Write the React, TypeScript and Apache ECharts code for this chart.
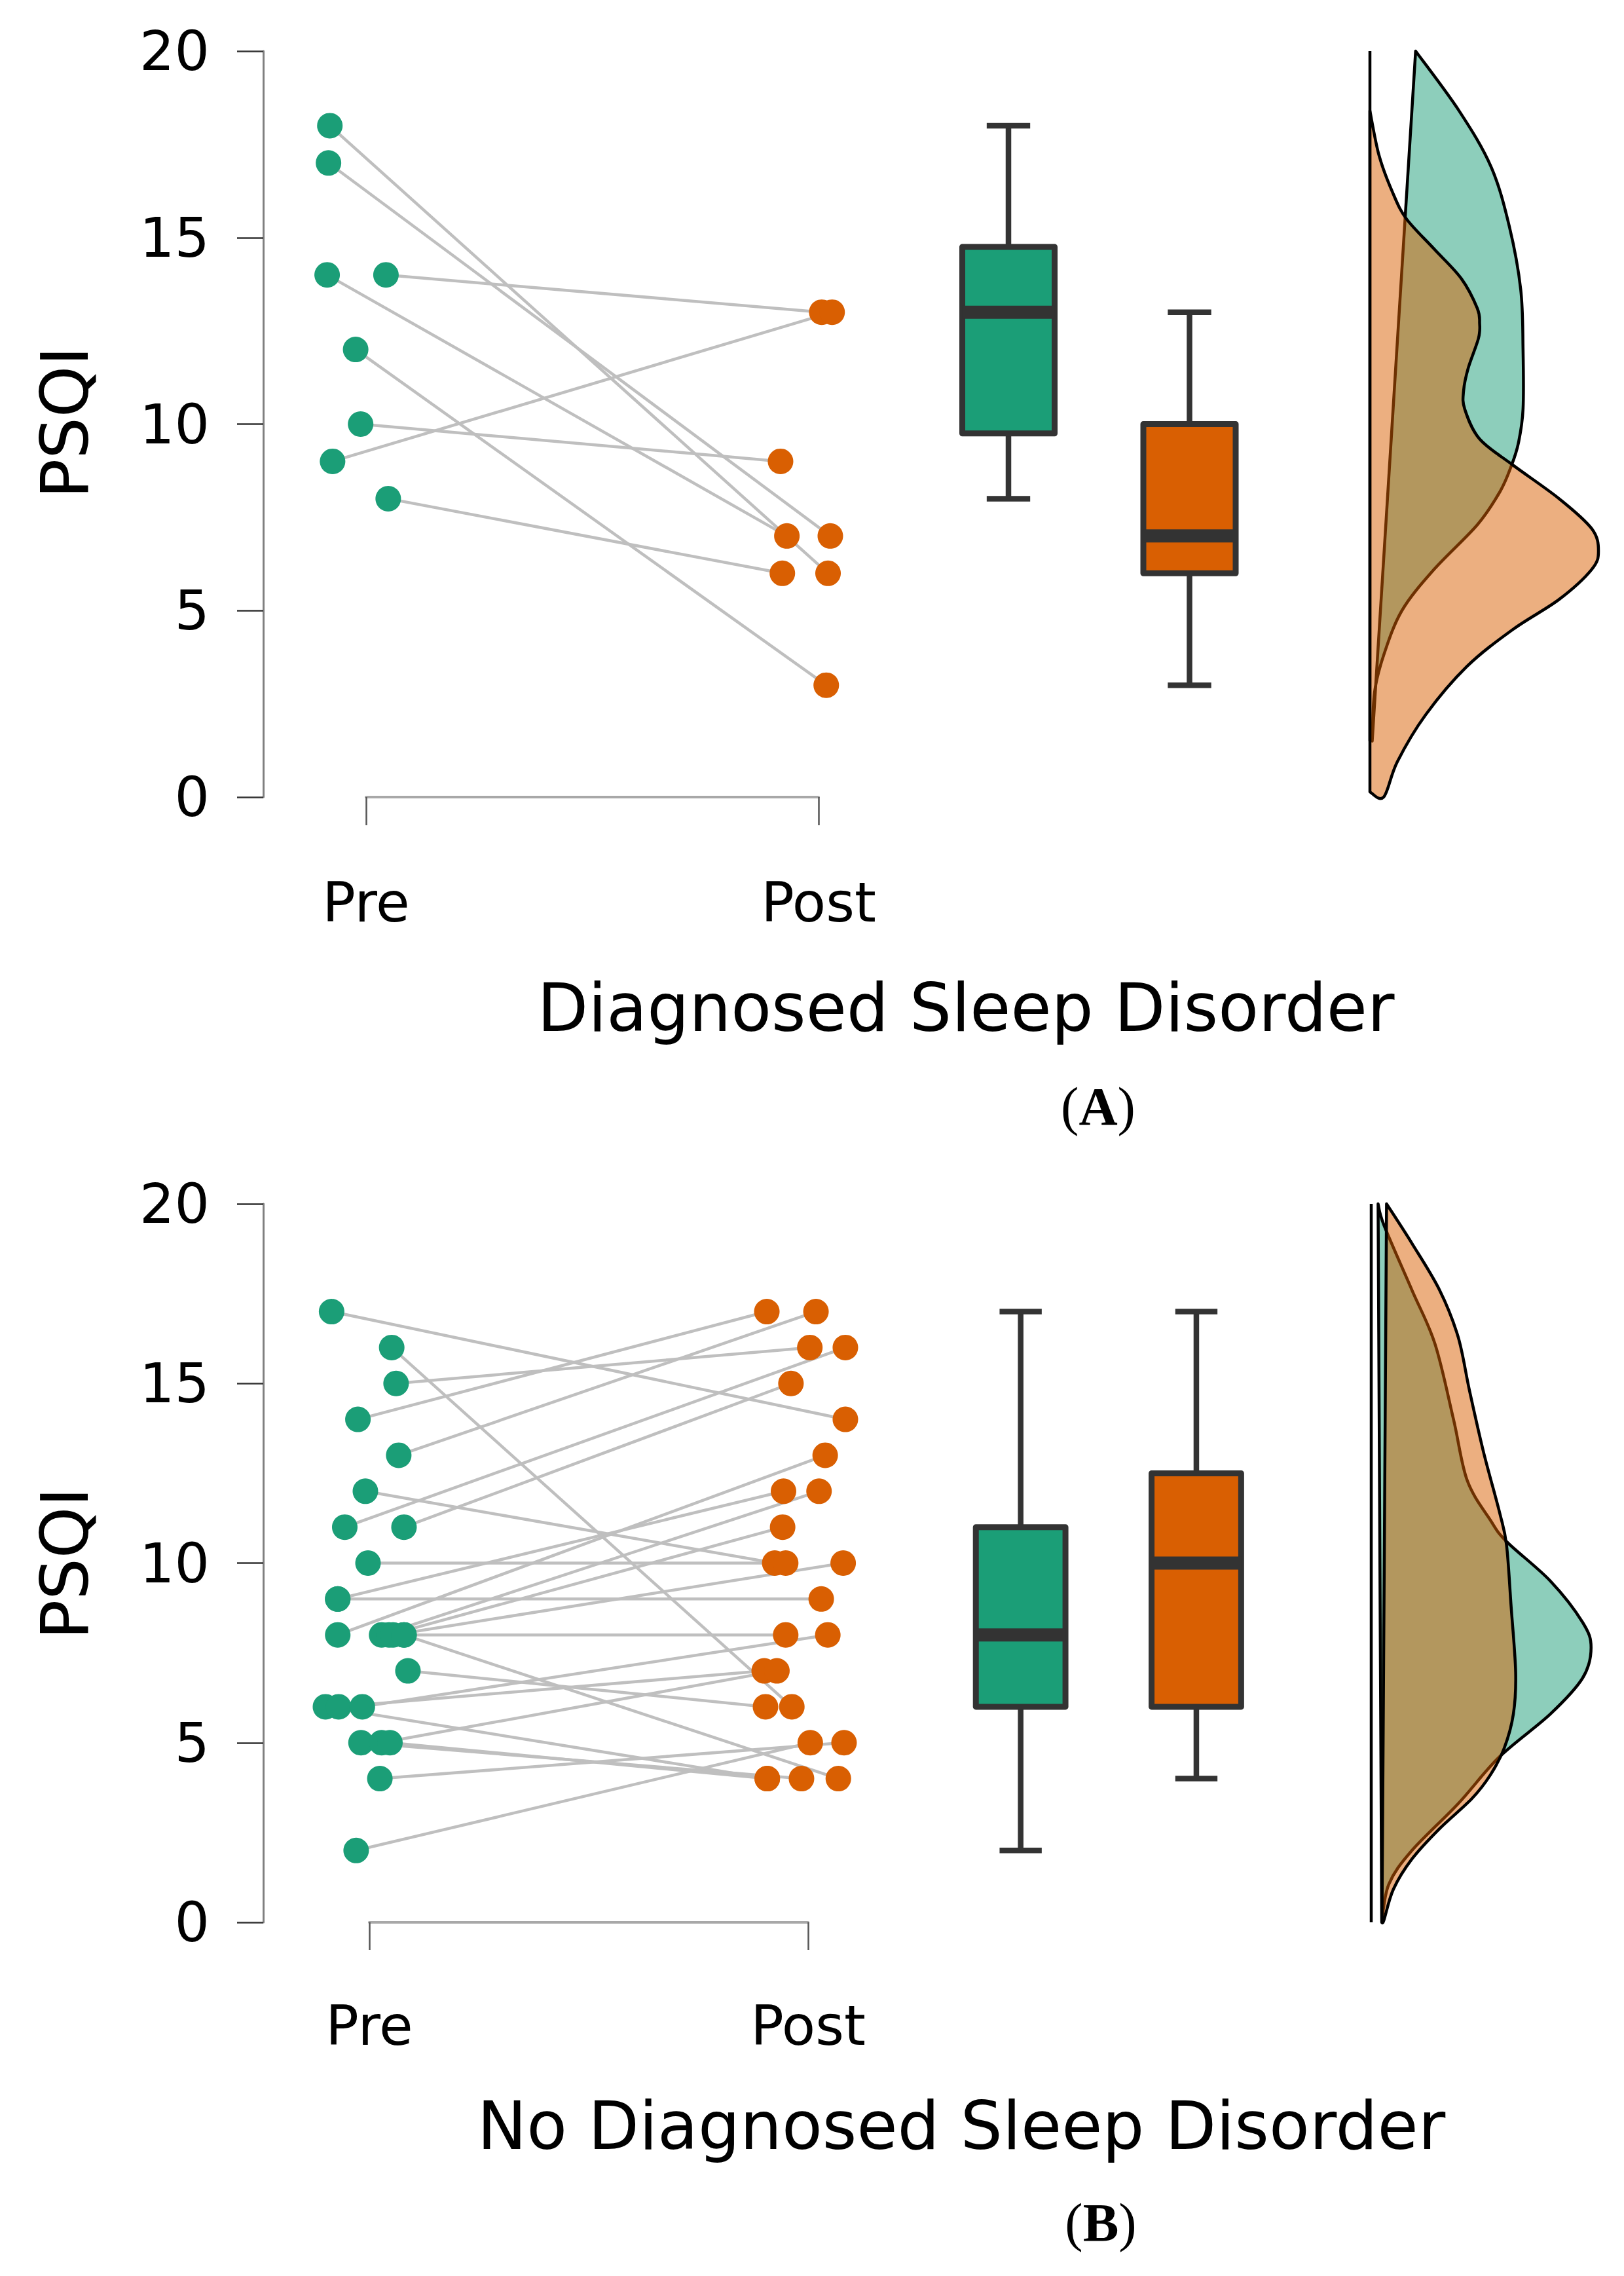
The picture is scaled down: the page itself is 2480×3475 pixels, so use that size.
import React, { useEffect, useRef } from "react";
import * as echarts from "echarts";

// ---------------- DATA ----------------
const categories = ["Pre", "Post"];
const yTicks = [0, 5, 10, 15, 20];

// Panel A: Diagnosed Sleep Disorder (paired)
const preA = [18, 17, 14, 14, 12, 10, 9, 8];
const preJitA = [-0.08, -0.083, -0.086, 0.044, -0.023, -0.012, -0.074, 0.049];
const postA = [6, 7, 7, 13, 3, 9, 13, 6];
const postJitA = [0.021, 0.026, -0.07, 0.007, 0.017, -0.084, 0.03, -0.08];

// Panel B: No Diagnosed Sleep Disorder (paired)
const preB = [17, 16, 15, 14, 13, 12, 11, 11, 10, 9, 9, 8, 8, 8, 8, 8, 8, 7, 6, 6, 6, 5, 5, 5, 4, 2];
const preJitB = [-0.086, 0.051, 0.061, -0.026, 0.067, -0.009, -0.056, 0.079, -0.003, -0.072, -0.072, -0.072, 0.028, 0.045, 0.054, 0.079, 0.079, 0.088, -0.1, -0.07, -0.016, -0.019, 0.028, 0.047, 0.024, -0.03];
const postB = [14, 6, 16, 17, 17, 10, 16, 15, 10, 9, 12, 13, 12, 11, 10, 8, 4, 6, 4, 7, 8, 4, 7, 4, 5, 5];
const postJitB = [0.085, -0.037, 0.004, -0.094, 0.018, -0.076, 0.085, -0.039, -0.051, 0.03, -0.056, 0.039, 0.025, -0.058, 0.08, -0.051, 0.069, -0.097, -0.093, -0.1, 0.045, -0.015, -0.071, -0.093, 0.082, 0.005];

// Box plot statistics: [min, Q1, median, Q3, max]
const boxA = [
  [8, 9.75, 13, 14.75, 18],
  [3, 6, 7, 10, 13],
];
const boxB = [
  [2, 6, 8, 11, 17],
  [4, 6, 10, 12.5, 17],
];

// Density outlines: [PSQI value, relative density]
const densPreA = [[20, 0.2], [18.4, 0.39], [16.9, 0.53], [15.3, 0.61], [13.6, 0.66], [12, 0.67], [10.4, 0.67], [9.5, 0.65], [8.9, 0.62], [8.2, 0.57], [7.3, 0.47], [6.1, 0.28], [5, 0.14], [3.8, 0.06], [2.8, 0.02], [1.5, 0.01]];
const densPostA = [[18.4, 0], [17.2, 0.04], [16.2, 0.1], [15.5, 0.16], [14.7, 0.28], [13.9, 0.4], [13.1, 0.47], [12.7, 0.48], [12.3, 0.475], [11.5, 0.43], [10.9, 0.41], [10.4, 0.415], [9.6, 0.48], [8.9, 0.626], [8, 0.828], [7.2, 0.97], [6.6, 1.0], [6.1, 0.97], [5.3, 0.828], [4.5, 0.627], [3.5, 0.424], [2.2, 0.243], [0.95, 0.12], [0, 0.06], [0.14, 0]];
const densPreB = [[20, 0.03], [19.4, 0.056], [17.6, 0.178], [16.1, 0.279], [14, 0.36], [12.3, 0.42], [11.2, 0.521], [10.6, 0.592], [9.5, 0.784], [8.35, 0.925], [7.65, 0.962], [6.8, 0.925], [5.8, 0.784], [4.6, 0.56], [3.3, 0.38], [2.0, 0.178], [1.06, 0.077], [0, 0.046]];
const densPostB = [[20, 0.067], [18.9, 0.178], [17.6, 0.299], [16.3, 0.38], [14.8, 0.43], [13.1, 0.491], [11.4, 0.562], [10.5, 0.592], [8.8, 0.612], [6.95, 0.632], [5.8, 0.622], [4.85, 0.582], [4.1, 0.521], [3.44, 0.44], [2.6, 0.298], [1.76, 0.178], [0.92, 0.097], [0.07, 0.056], [0, 0.047]];

// ---------------- STYLE ----------------
const FONT = "DejaVu Sans";
const GREEN = "#1b9e77";
const ORANGE = "#d95f02";
const GREEN_A = "rgba(27,158,119,0.5)";
const ORANGE_A = "rgba(217,95,2,0.5)";
const W = 2480;
const H = 3475;
const PAD = 0.15; // extra x-range around Pre/Post for jittered points

type Panel = {
  pre: number[]; preJit: number[]; post: number[]; postJit: number[];
  box: number[][]; densPre: number[][]; densPost: number[][];
  top: number; height: number; sLeft: number; sWidth: number; yAxisX: number;
  bracketOffset: number; tickLen: number; bLeft: number; bWidth: number;
  dLeft: number; dWidth: number; baseTop: number; baseBottom: number;
};

const panels: Panel[] = [
  {
    pre: preA, preJit: preJitA, post: postA, postJit: postJitA, box: boxA,
    densPre: densPreA, densPost: densPostA,
    top: 78, height: 1139, sLeft: 559, sWidth: 691, yAxisX: 402,
    bracketOffset: 51.5, tickLen: 43, bLeft: 1401.75, bWidth: 553,
    dLeft: 2092, dWidth: 349, baseTop: 20, baseBottom: 1.5,
  },
  {
    pre: preB, preJit: preJitB, post: postB, postJit: postJitB, box: boxB,
    densPre: densPreB, densPost: densPostB,
    top: 1838, height: 1097, sLeft: 564, sWidth: 670, yAxisX: 402,
    bracketOffset: 49, tickLen: 42, bLeft: 1424.5, bWidth: 536.6,
    dLeft: 2094, dWidth: 349, baseTop: 20, baseBottom: 0,
  },
];

// Catmull-Rom through screen points -> cubic bezier path, closed straight
function smoothClosedPath(pts: number[][]): string {
  const n = pts.length;
  let d = `M${pts[0][0]},${pts[0][1]}`;
  for (let i = 0; i < n - 1; i++) {
    const p0 = pts[i - 1] || pts[i];
    const p1 = pts[i];
    const p2 = pts[i + 1];
    const p3 = pts[i + 2] || p2;
    const c1x = p1[0] + (p2[0] - p0[0]) / 6;
    const c1y = p1[1] + (p2[1] - p0[1]) / 6;
    const c2x = p2[0] - (p3[0] - p1[0]) / 6;
    const c2y = p2[1] - (p3[1] - p1[1]) / 6;
    d += ` C${c1x},${c1y} ${c2x},${c2y} ${p2[0]},${p2[1]}`;
  }
  return d + " Z";
}

function buildOption() {
  const grid: any[] = [];
  const xAxis: any[] = [];
  const yAxis: any[] = [];
  const series: any[] = [];

  panels.forEach((p, pi) => {
    const g0 = pi * 4; // data grid
    const g1 = g0 + 1; // axis (bracket) grid
    const g2 = g0 + 2; // box grid
    const g3 = g0 + 3; // density grid
    grid.push({ left: p.sLeft - PAD * p.sWidth, top: p.top, width: p.sWidth * (1 + 2 * PAD), height: p.height });
    grid.push({ left: p.sLeft, top: p.top, width: p.sWidth, height: p.height });
    grid.push({ left: p.bLeft, top: p.top, width: p.bWidth, height: p.height });
    grid.push({ left: p.dLeft, top: p.top, width: p.dWidth, height: p.height });

    xAxis.push({ gridIndex: g0, type: "value", min: 1 - PAD, max: 2 + PAD, show: false });
    xAxis.push({
      gridIndex: g1, type: "value", min: 1, max: 2, interval: 1,
      position: "bottom", offset: p.bracketOffset,
      axisLine: { show: true, lineStyle: { color: "#a8a8a8", width: 4 } },
      axisTick: { show: true, length: p.tickLen, lineStyle: { color: "#555", width: 2.5 } },
      axisLabel: {
        show: true, margin: 67, fontSize: 84, color: "#000", fontFamily: FONT,
        formatter: (v: number) => categories[Math.round(v) - 1] ?? "",
      },
      splitLine: { show: false },
    });
    xAxis.push({ gridIndex: g2, type: "category", data: categories, show: false, boundaryGap: true });
    xAxis.push({ gridIndex: g3, type: "value", min: 0, max: 1, show: false });

    yAxis.push({ gridIndex: g0, type: "value", min: 0, max: 20, show: false });
    yAxis.push({
      gridIndex: g1, type: "value", min: yTicks[0], max: yTicks[yTicks.length - 1], interval: 5,
      position: "left", offset: p.sLeft - p.yAxisX,
      axisLine: { show: true, lineStyle: { color: "#808080", width: 3 } },
      axisTick: { show: true, length: 40, lineStyle: { color: "#333", width: 2.5 } },
      axisLabel: { show: true, margin: 82, fontSize: 84, color: "#000", fontFamily: FONT },
      splitLine: { show: false },
    });
    yAxis.push({ gridIndex: g2, type: "value", min: 0, max: 20, show: false });
    yAxis.push({ gridIndex: g3, type: "value", min: 0, max: 20, show: false });

    // connecting lines
    p.pre.forEach((v, i) => {
      series.push({
        type: "line", xAxisIndex: g0, yAxisIndex: g0, silent: true, clip: false,
        symbol: "none", z: 1,
        lineStyle: { color: "#bfbfbf", width: 4.5 },
        data: [[1 + p.preJit[i], v], [2 + p.postJit[i], p.post[i]]],
      });
    });
    // points
    series.push({
      type: "scatter", xAxisIndex: g0, yAxisIndex: g0, clip: false, z: 3,
      symbolSize: 39, itemStyle: { color: GREEN, opacity: 1 },
      data: p.pre.map((v, i) => [1 + p.preJit[i], v]),
    });
    series.push({
      type: "scatter", xAxisIndex: g0, yAxisIndex: g0, clip: false, z: 3,
      symbolSize: 39, itemStyle: { color: ORANGE, opacity: 1 },
      data: p.post.map((v, i) => [2 + p.postJit[i], v]),
    });

    // box plots
    const fills = [GREEN, ORANGE];
    series.push({
      type: "custom", xAxisIndex: g2, yAxisIndex: g2, clip: false, z: 2,
      data: p.box.map((b, i) => [i, ...b]),
      renderItem: (params: any, api: any) => {
        const ci = api.value(0);
        const mn = api.value(1), q1 = api.value(2), md = api.value(3), q3 = api.value(4), mx = api.value(5);
        const cx = api.coord([ci, md])[0];
        const band = api.size([1, 0])[0];
        const bw = band * 0.51;
        const cw = band * 0.24;
        const Y = (v: number) => api.coord([ci, v])[1];
        const stroke = "#333333";
        const ls = { stroke, lineWidth: 8.5 };
        return {
          type: "group",
          children: [
            { type: "line", shape: { x1: cx, y1: Y(mx), x2: cx, y2: Y(q3) }, style: ls },
            { type: "line", shape: { x1: cx, y1: Y(q1), x2: cx, y2: Y(mn) }, style: ls },
            { type: "line", shape: { x1: cx - cw / 2, y1: Y(mx), x2: cx + cw / 2, y2: Y(mx) }, style: ls },
            { type: "line", shape: { x1: cx - cw / 2, y1: Y(mn), x2: cx + cw / 2, y2: Y(mn) }, style: ls },
            {
              type: "rect",
              shape: { x: cx - bw / 2, y: Y(q3), width: bw, height: Y(q1) - Y(q3) },
              style: { fill: fills[ci], stroke, lineWidth: 9, lineJoin: "round" },
            },
            { type: "line", shape: { x1: cx - bw / 2, y1: Y(md), x2: cx + bw / 2, y2: Y(md) }, style: { stroke, lineWidth: 20 } },
          ],
        };
      },
    });

    // densities
    series.push({
      type: "custom", xAxisIndex: g3, yAxisIndex: g3, clip: false, z: 2,
      data: [[0, p.baseTop]],
      renderItem: (params: any, api: any) => {
        const pts = p.densPre.map(([v, w]) => api.coord([w, v]));
        const t = api.coord([0, p.baseTop]);
        const b = api.coord([0, p.baseBottom]);
        return {
          type: "group",
          children: [
            { type: "path", shape: { pathData: smoothClosedPath(pts) }, style: { fill: GREEN_A, stroke: "#000", lineWidth: 4.5, lineJoin: "round" } },
            { type: "line", shape: { x1: t[0], y1: t[1], x2: b[0], y2: b[1] }, style: { stroke: "#000", lineWidth: 4.5 } },
          ],
        };
      },
    });
    series.push({
      type: "custom", xAxisIndex: g3, yAxisIndex: g3, clip: false, z: 3,
      data: [[0, 0]],
      renderItem: (params: any, api: any) => {
        const pts = p.densPost.map(([v, w]) => api.coord([w, v]));
        return {
          type: "path", shape: { pathData: smoothClosedPath(pts) },
          style: { fill: ORANGE_A, stroke: "#000", lineWidth: 4.5, lineJoin: "round" },
        };
      },
    });
  });

  const txt = (text: string, x: number, y: number, size: number, rotation = 0) => ({
    type: "text", x, y, rotation,
    style: {
      text, font: `${size}px "${FONT}"`, fontSize: size, fontFamily: FONT, fill: "#000",
      align: "center", verticalAlign: "middle", textAlign: "center", textVerticalAlign: "middle",
    },
  });
  const lab = (letter: string, x: number, y: number) => ({
    type: "text", x, y,
    style: {
      text: "{n|(}{b|" + letter + "}{n|)}",
      align: "center", verticalAlign: "middle", textAlign: "center", textVerticalAlign: "middle",
      fill: "#000",
      rich: {
        n: { fontFamily: "Liberation Serif", fontSize: 82, fontWeight: "normal", fill: "#000", color: "#000" },
        b: { fontFamily: "Liberation Serif", fontSize: 82, fontWeight: "bold", fill: "#000", color: "#000" },
      },
    },
  });

  const graphic = [
    txt("PSQI", 99, 645, 100, Math.PI / 2),
    txt("PSQI", 99, 2387, 100, Math.PI / 2),
    txt("Diagnosed Sleep Disorder", 1475, 1539, 101),
    txt("No Diagnosed Sleep Disorder", 1468, 3246, 101),
    lab("A", 1677, 1689),
    lab("B", 1681, 3393),
  ];

  return {
    animation: false,
    backgroundColor: "#ffffff",
    textStyle: { fontFamily: FONT },
    grid, xAxis, yAxis, series, graphic,
  };
}

export default function App() {
  const ref = useRef<HTMLDivElement>(null);
  useEffect(() => {
    if (!ref.current) return;
    const chart = echarts.init(ref.current, null, { renderer: "svg", width: W, height: H });
    chart.setOption(buildOption() as any);
    return () => chart.dispose();
  }, []);
  return (
    <div
      ref={ref}
      style={{ position: "absolute", left: 0, top: 0, width: W, height: H, background: "#fff" }}
    />
  );
}
